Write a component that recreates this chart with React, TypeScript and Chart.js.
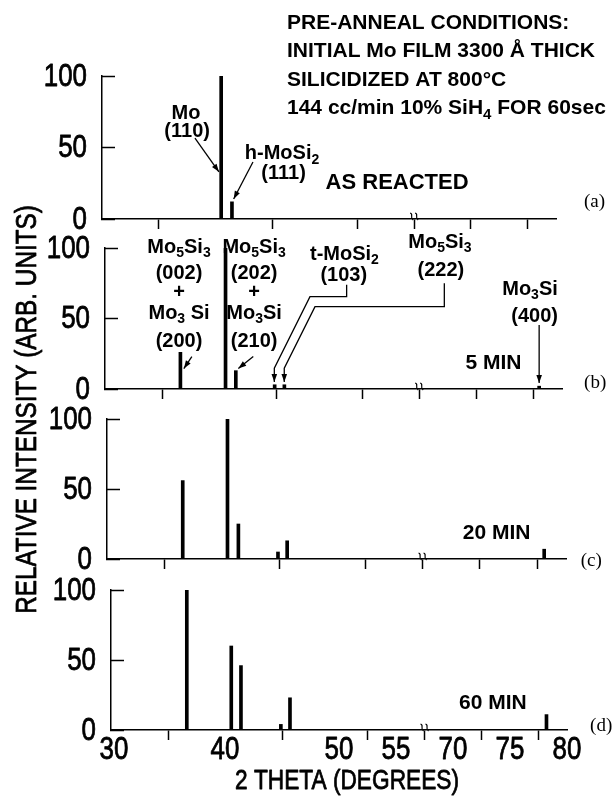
import React, { useEffect, useRef } from 'react';
import { Chart, registerables } from 'chart.js';
Chart.register(...registerables);

// ---------------- data ----------------
const PEAKS_A_X = [40.5, 41.45];
const PEAKS_A_Y = [100, 12];
const PEAKS_B_X = [36.6, 40.55, 41.45, 44.85, 45.7, 78.0];
const PEAKS_B_Y = [26, 100, 13, 3, 3, 2];
const PEAKS_C_X = [36.6, 40.5, 41.45, 44.9, 45.7, 78.1];
const PEAKS_C_Y = [56, 100, 25, 5, 13, 7];
const PEAKS_D_X = [36.65, 40.55, 41.4, 44.9, 45.7, 78.2];
const PEAKS_D_Y = [100, 60, 46, 4, 23, 11];

const X_TICKS = [30, 40, 50, 55, 70, 75, 80];
const X_TICK_LABELS = ['30', '40', '50', '55', '70', '75', '80'];
const Y_TICKS = [0, 50, 100];
const Y_TICK_LABELS = ['0', '50', '100'];
const X_TITLE = '2 THETA (DEGREES)';
const Y_TITLE = 'RELATIVE INTENSITY (ARB. UNITS)';

// axis break: 55..70 shown as a short gap
const BREAK_FROM = 55;
const BREAK_TO = 70;
const BREAK_GAP = 5;
const toAxis = (x: number) => (x <= BREAK_FROM ? x : x - (BREAK_TO - BREAK_FROM) + BREAK_GAP);

// ---------------- styles / layout ----------------
const W = 615;
const H = 799;
const SANS = "'Liberation Sans', Arial, sans-serif";
const SERIF = "'Liberation Serif', 'DejaVu Serif', serif";
const NARROW_SX = 0.81; // horizontal squeeze to imitate condensed lettering
const AXIS_WEIGHT = 'normal';
const AXIS_STROKE = 0.8; // slight outline to get a medium weight

type Txt = { text: string; x: number; y: number; size?: number; align?: CanvasTextAlign; family?: string; weight?: string };
type Panel = {
  key: string; left: number; right: number; top: number; bottom: number;
  xs: number[]; ys: number[]; texts: Txt[]; arrows: number[][][];
};

const PANELS: Panel[] = [
  {
    key: 'a', left: 102, right: 556, top: 76, bottom: 219,
    xs: PEAKS_A_X, ys: PEAKS_A_Y,
    texts: [
      { text: 'PRE-ANNEAL CONDITIONS:', x: 46.3, y: 137, size: 21, align: 'left' },
      { text: 'INITIAL Mo FILM 3300 Å THICK', x: 46.3, y: 117.5, size: 21, align: 'left' },
      { text: 'SILICIDIZED AT 800°C', x: 46.3, y: 97.2, size: 21, align: 'left' },
      { text: '144 cc/min 10% SiH_4 FOR 60sec', x: 46.3, y: 77.3, size: 21, align: 'left' },
      { text: 'Mo', x: 37.4, y: 73.8 },
      { text: '(110)', x: 37.5, y: 61.5 },
      { text: 'h-MoSi_2', x: 45.86, y: 45.5 },
      { text: '(111)', x: 46.0, y: 31.5 },
      { text: 'AS REACTED', x: 49.7, y: 25.5, size: 22, align: 'left' },
      { text: '(a)', x: 73.4, y: 11.9, size: 19, family: SERIF, weight: 'normal' },
    ],
    arrows: [
      [[38.19, 56.6], [40.3, 33]],
      [[43.3, 39.9], [41.6, 14]],
    ],
  },
  {
    key: 'b', left: 105, right: 562, top: 248, bottom: 389,
    xs: PEAKS_B_X, ys: PEAKS_B_Y,
    texts: [
      { text: 'Mo_5Si_3', x: 36.48, y: 100.7 },
      { text: '(002)', x: 36.48, y: 81.6 },
      { text: '+', x: 36.48, y: 68.1 },
      { text: 'Mo_3 Si', x: 36.48, y: 53.9 },
      { text: '(200)', x: 36.48, y: 34.0 },
      { text: 'Mo_5Si_3', x: 43.05, y: 100.7 },
      { text: '(202)', x: 43.05, y: 81.6 },
      { text: '+', x: 43.05, y: 68.1 },
      { text: 'Mo_3Si', x: 43.05, y: 53.9 },
      { text: '(210)', x: 43.05, y: 34.0 },
      { text: 't-MoSi_2', x: 50.96, y: 95.7 },
      { text: '(103)', x: 50.9, y: 80.5 },
      { text: 'Mo_5Si_3', x: 59.32, y: 103.9 },
      { text: '(222)', x: 59.4, y: 84.4 },
      { text: 'Mo_3Si', x: 67.2, y: 70.9 },
      { text: '(400)', x: 67.6, y: 51.3 },
      { text: '5 MIN', x: 64.0, y: 18.4, size: 21 },
      { text: '(b)', x: 72.9, y: 3.9, size: 19, family: SERIF, weight: 'normal' },
    ],
    arrows: [
      [[37.6, 23], [36.9, 14.5]],
      [[42.98, 23], [41.67, 14.5]],
      [[51.15, 74], [51.15, 65.5], [47.94, 65.5], [44.82, 14.7], [44.82, 5]],
      [[59.7, 75], [59.7, 58.4], [48.38, 58.4], [45.69, 14.7], [45.69, 5]],
      [[68.0, 45.4], [68.0, 4.3]],
    ],
  },
  {
    key: 'c', left: 107, right: 566, top: 419, bottom: 559,
    xs: PEAKS_C_X, ys: PEAKS_C_Y,
    texts: [
      { text: '20 MIN', x: 63.96, y: 18.6, size: 21 },
      { text: '(c)', x: 72.2, y: -1.4, size: 19, family: SERIF, weight: 'normal' },
    ],
    arrows: [],
  },
  {
    key: 'd', left: 111, right: 567, top: 590, bottom: 730,
    xs: PEAKS_D_X, ys: PEAKS_D_Y,
    texts: [
      { text: '60 MIN', x: 63.5, y: 19.3, size: 21 },
      { text: '(d)', x: 73, y: 3.2, size: 19, family: SERIF, weight: 'normal' },
    ],
    arrows: [],
  },
];

function drawRich(ctx: CanvasRenderingContext2D, t: Txt, px: number, py: number) {
  const size = t.size ?? 20;
  const weight = t.weight ?? 'bold';
  const family = t.family ?? SANS;
  const segs: { s: string; sub: boolean }[] = [];
  let i = 0;
  const s = t.text;
  while (i < s.length) {
    if (s[i] === '_') {
      segs.push({ s: s[i + 1], sub: true });
      i += 2;
    } else {
      let j = i;
      while (j < s.length && s[j] !== '_') j++;
      segs.push({ s: s.slice(i, j), sub: false });
      i = j;
    }
  }
  const fMain = `${weight} ${size}px ${family}`;
  const fSub = `${weight} ${Math.round(size * 0.7)}px ${family}`;
  let total = 0;
  const widths = segs.map((g) => {
    ctx.font = g.sub ? fSub : fMain;
    const w = ctx.measureText(g.s).width;
    total += w;
    return w;
  });
  const align = t.align ?? 'center';
  let cx = align === 'center' ? px - total / 2 : align === 'right' ? px - total : px;
  ctx.textBaseline = 'middle';
  ctx.textAlign = 'left';
  segs.forEach((g, k) => {
    ctx.font = g.sub ? fSub : fMain;
    ctx.fillText(g.s, cx, g.sub ? py + size * 0.3 : py);
    cx += widths[k];
  });
}

function drawSqueezed(ctx: CanvasRenderingContext2D, text: string, x: number, y: number, size: number, align: CanvasTextAlign, rot = 0) {
  ctx.save();
  ctx.translate(x, y);
  if (rot) ctx.rotate(rot);
  ctx.scale(NARROW_SX, 1);
  ctx.font = `${AXIS_WEIGHT} ${size}px ${SANS}`;
  ctx.textAlign = align;
  ctx.textBaseline = 'middle';
  ctx.fillText(text, 0, 0);
  ctx.lineWidth = AXIS_STROKE;
  ctx.lineJoin = 'round';
  ctx.strokeText(text, 0, 0);
  ctx.restore();
}

function drawArrow(ctx: CanvasRenderingContext2D, pts: number[][]) {
  ctx.lineWidth = 1.3;
  ctx.beginPath();
  ctx.moveTo(pts[0][0], pts[0][1]);
  for (let k = 1; k < pts.length; k++) ctx.lineTo(pts[k][0], pts[k][1]);
  ctx.stroke();
  const [x2, y2] = pts[pts.length - 1];
  const [x1, y1] = pts[pts.length - 2];
  const a = Math.atan2(y2 - y1, x2 - x1);
  const len = 8;
  const hw = 2.8;
  ctx.beginPath();
  ctx.moveTo(x2, y2);
  ctx.lineTo(x2 - len * Math.cos(a) + hw * Math.sin(a), y2 - len * Math.sin(a) - hw * Math.cos(a));
  ctx.lineTo(x2 - len * Math.cos(a) - hw * Math.sin(a), y2 - len * Math.sin(a) + hw * Math.cos(a));
  ctx.closePath();
  ctx.fill();
}

function makePlugin(panel: Panel, isLast: boolean) {
  return {
    id: 'anno_' + panel.key,
    afterDraw(chart: any) {
      const { ctx } = chart;
      const xs = chart.scales.x;
      const ys = chart.scales.y;
      const X = (p: number) => xs.getPixelForValue(p);
      const Y = (v: number) => ys.getPixelForValue(v);
      ctx.save();
      ctx.fillStyle = '#000';
      ctx.strokeStyle = '#000';
      // y tick labels (condensed lettering)
      Y_TICKS.forEach((v, k) => drawSqueezed(ctx, Y_TICK_LABELS[k], chart.chartArea.left - 15, Y(v) + 1, 32, 'right'));
      // x tick labels + axis titles on the bottom panel
      if (isLast) {
        X_TICKS.forEach((v, k) => drawSqueezed(ctx, X_TICK_LABELS[k], X(toAxis(v)) + (k === 0 ? 3 : 0), Y(0) + 20, 32, 'center'));
        drawSqueezed(ctx, X_TITLE, (xs.left + xs.right) / 2 + 8, Y(0) + 51, 28, 'center');
        drawSqueezed(ctx, Y_TITLE, 28, 409.5, 30, 'center', -Math.PI / 2);
      }
      // axis-break squiggle
      const bx = X(BREAK_FROM + BREAK_GAP / 2);
      const by = Y(0);
      ctx.lineWidth = 1.2;
      for (const dx of [-2.5, 2.5]) {
        ctx.beginPath();
        ctx.moveTo(bx + dx - 1.5, by - 6);
        ctx.bezierCurveTo(bx + dx + 2.5, by - 5, bx + dx - 2.5, by - 2, bx + dx + 1.5, by + 1);
        ctx.stroke();
      }
      for (const t of panel.texts) drawRich(ctx, t, X(t.x), Y(t.y));
      for (const a of panel.arrows) drawArrow(ctx, a.map(([p, v]) => [X(p), Y(v)]));
      ctx.restore();
    },
  };
}

function buildConfig(panel: Panel, isLast: boolean): any {
  const xh = isLast ? 68 : 12;
  return {
    type: 'bar',
    data: {
      datasets: [
        {
          data: panel.xs.map((x, i) => ({ x: toAxis(x), y: panel.ys[i] })),
          backgroundColor: '#000',
          borderWidth: 0,
          barThickness: 3,
        },
      ],
    },
    options: {
      responsive: false,
      animation: false,
      devicePixelRatio: 1,
      events: [],
      layout: {
        padding: { left: 0, right: W - panel.right, top: panel.top, bottom: H - panel.bottom - xh },
      },
      plugins: { legend: { display: false }, tooltip: { enabled: false }, title: { display: false } },
      scales: {
        x: {
          type: 'linear',
          min: toAxis(X_TICKS[0]),
          max: toAxis(X_TICKS[X_TICKS.length - 1]),
          offset: false,
          position: 'bottom',
          afterBuildTicks: (s: any) => {
            s.ticks = X_TICKS.map((v) => ({ value: toAxis(v) }));
          },
          afterFit: (s: any) => {
            s.height = xh;
          },
          ticks: { display: false, autoSkip: false, maxRotation: 0 },
          grid: {
            display: true,
            drawOnChartArea: false,
            drawTicks: true,
            tickLength: 10,
            tickWidth: 1.5,
            color: '#000',
            tickColor: (c: any) => (c.tick && Math.abs(c.tick.value - toAxis(X_TICKS[0])) < 1e-6 ? 'rgba(0,0,0,0)' : '#000'),
          },
          border: { display: true, color: '#000', width: 1.5 },
        },
        y: {
          type: 'linear',
          min: Y_TICKS[0],
          max: Y_TICKS[Y_TICKS.length - 1],
          position: 'left',
          afterBuildTicks: (s: any) => {
            s.ticks = Y_TICKS.map((v) => ({ value: v }));
          },
          afterFit: (s: any) => {
            s.width = panel.left;
          },
          ticks: { display: false },
          grid: {
            display: true,
            drawOnChartArea: false,
            drawTicks: true,
            tickLength: -13,
            tickWidth: 1.5,
            color: '#000',
          },
          border: { display: true, color: '#000', width: 1.5 },
        },
      },
    },
    plugins: [makePlugin(panel, isLast)],
  };
}

export default function App() {
  const r0 = useRef<HTMLCanvasElement>(null);
  const r1 = useRef<HTMLCanvasElement>(null);
  const r2 = useRef<HTMLCanvasElement>(null);
  const r3 = useRef<HTMLCanvasElement>(null);
  const refs = [r0, r1, r2, r3];

  useEffect(() => {
    document.body.style.margin = '0';
    const charts = PANELS.map((p, i) => new Chart(refs[i].current as HTMLCanvasElement, buildConfig(p, i === PANELS.length - 1)));
    return () => charts.forEach((c) => c.destroy());
  }, []);

  return (
    <div style={{ position: 'absolute', left: 0, top: 0, width: W, height: H, background: '#fff' }}>
      {PANELS.map((p, i) => (
        <canvas
          key={p.key}
          ref={refs[i]}
          width={W}
          height={H}
          style={{ position: 'absolute', left: 0, top: 0, width: W, height: H }}
        />
      ))}
    </div>
  );
}
